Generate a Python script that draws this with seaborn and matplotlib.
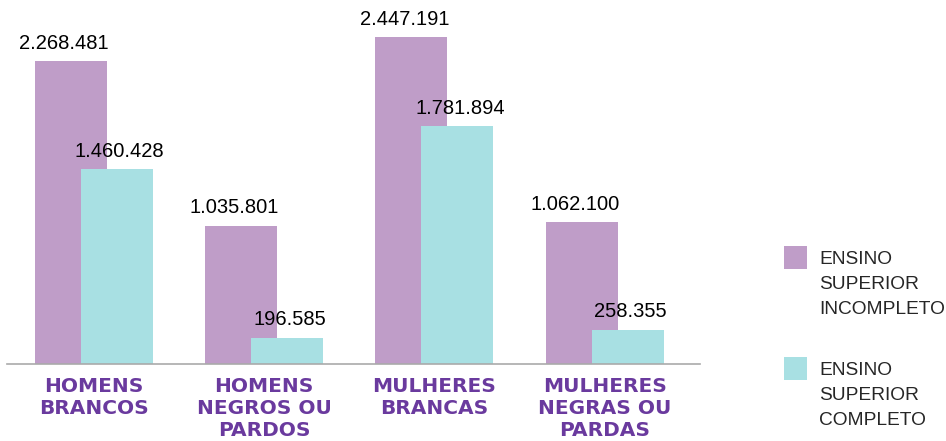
import numpy as np
import pandas as pd
import matplotlib
matplotlib.use("Agg")
import matplotlib.pyplot as plt
import seaborn as sns
from matplotlib.patches import Rectangle
from matplotlib.legend_handler import HandlerPatch

groups = ["HOMENS\nBRANCOS", "HOMENS\nNEGROS OU\nPARDOS",
          "MULHERES\nBRANCAS", "MULHERES\nNEGRAS OU\nPARDAS"]
series = ["ENSINO\nSUPERIOR\nINCOMPLETO", "ENSINO\nSUPERIOR\nCOMPLETO"]
incompleto = [2268481, 1035801, 2447191, 1062100]
completo = [1460428, 196585, 1781894, 258355]
colors = ["#BF9DC8", "#A8E0E3"]

df = pd.DataFrame({
    "grupo": groups * 2,
    "nivel": [series[0]] * len(groups) + [series[1]] * len(groups),
    "valor": incompleto + completo,
})

sns.set_style("white")
plt.rcParams["font.family"] = ["Liberation Sans", "DejaVu Sans"]

fig = plt.figure(figsize=(9.46, 4.41), dpi=100)
ax = fig.add_axes([7 / 946, 77 / 441, 693 / 946, 347 / 441])

# negative gap makes the two bars of a group overlap
sns.barplot(data=df, x="grupo", y="valor", hue="nivel", palette=colors,
            width=0.54, gap=-0.57, saturation=1, errorbar=None,
            legend=False, linewidth=0, ax=ax)

ax.set_xlim(-0.51, 3.56)
ax.set_ylim(0, 2.6e6)
ax.set_xlabel("")
ax.set_ylabel("")
ax.set_yticks([])
for s in ["top", "left", "right"]:
    ax.spines[s].set_visible(False)
ax.spines["bottom"].set_color("#AAAAAA")
ax.spines["bottom"].set_linewidth(1.2)
ax.tick_params(axis="x", length=0, pad=9)
for lab in ax.get_xticklabels():
    lab.set_fontfamily("DejaVu Sans")
    lab.set_fontweight("bold")
    lab.set_fontsize(14.5)
    lab.set_color("#6A3A9E")
    lab.set_linespacing(1.2)

# value labels
for i, cont in enumerate(ax.containers):
    vals = incompleto if i == 0 else completo
    dx = -5 if i == 0 else 2
    for bar, v in zip(cont, vals):
        ax.annotate(f"{v:,}".replace(",", "."),
                    (bar.get_x() + bar.get_width() / 2, bar.get_height()),
                    xytext=(dx, 6), textcoords="offset points",
                    ha="center", va="bottom", fontsize=14.5, color="black")


def top_square(legend, orig_handle, xdescent, ydescent, width, height, fontsize):
    return Rectangle((-xdescent, height - ydescent - width + 9), width, width)


handles = [Rectangle((0, 0), 1, 1, facecolor=c, edgecolor="none") for c in colors]
fig.legend(handles, series, loc="upper left",
           bbox_to_anchor=(784 / 946, 1 - 251 / 441), frameon=False,
           handlelength=1.2, handleheight=4.0,
           handletextpad=0.65, labelspacing=2.28,
           handler_map={Rectangle: HandlerPatch(patch_func=top_square)},
           prop={"size": 13.8}, borderpad=0, borderaxespad=0)
for t in fig.legends[0].get_texts():
    t.set_linespacing(1.62)

fig.savefig("out.png", dpi=100)
